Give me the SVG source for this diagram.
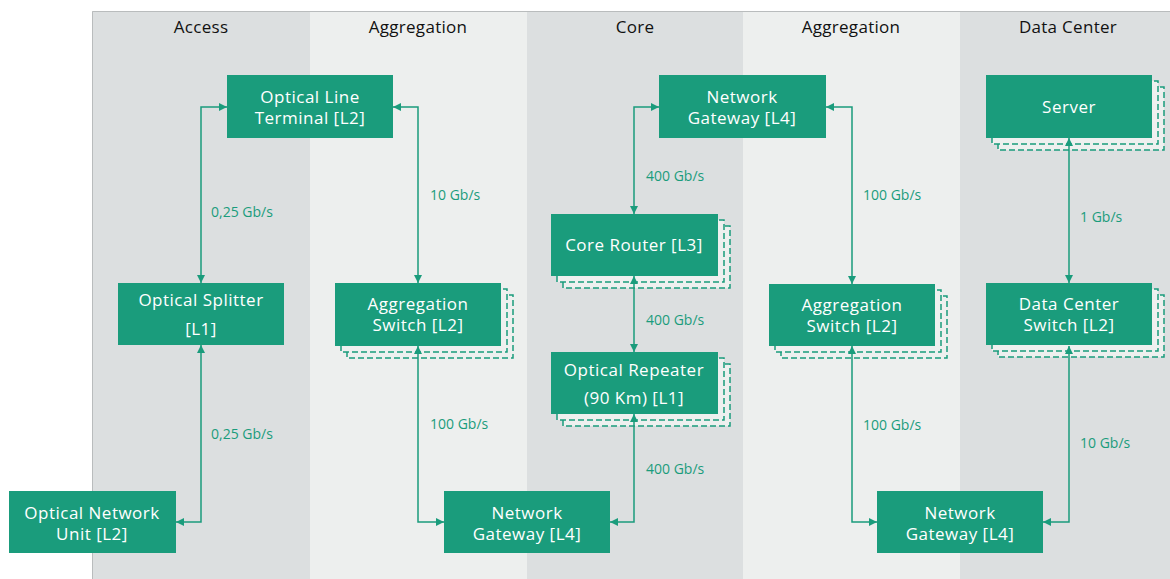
<svg xmlns="http://www.w3.org/2000/svg" width="1170" height="579" viewBox="0 0 1170 579">
  <style>
    .col-dark { fill: #dcdfe0; }
    .col-light { fill: #edefee; }
    .head { font-family: "Open Sans", "Noto Sans", sans-serif; font-size: 17px; letter-spacing: 0.3px; fill: #111; text-anchor: middle; }
    .node { fill: #1a9c7c; }
    .shadow { fill: #eef0ef; stroke: #1a9c7c; stroke-width: 1.5; stroke-dasharray: 6 3; }
    .label { font-family: "Open Sans", "Noto Sans", sans-serif; font-size: 17px; letter-spacing: 0.5px; fill: #ffffff; text-anchor: middle; }
    .rate { font-family: "Open Sans", "Noto Sans", sans-serif; font-size: 14px; fill: #1a9c7c; }
    .link { fill: none; stroke: #1a9c7c; stroke-width: 1.5; marker-start: url(#arrow); marker-end: url(#arrow); }
  </style>
  <defs>
    <marker id="arrow" viewBox="0 0 8 8" refX="8" refY="4" markerWidth="8" markerHeight="8" markerUnits="userSpaceOnUse" orient="auto-start-reverse">
      <path d="M0,0 L8,4 L0,8 z" fill="#1a9c7c"/>
    </marker>
  </defs>

  <!-- layer columns -->
  <g id="columns">
    <rect x="0" y="0" width="1170" height="579" fill="#ffffff"/>
    <rect class="col-dark" x="92" y="11" width="218" height="568"/>
    <rect class="col-light" x="310" y="11" width="217" height="568"/>
    <rect class="col-dark" x="527" y="11" width="216" height="568"/>
    <rect class="col-light" x="743" y="11" width="217" height="568"/>
    <rect class="col-dark" x="960" y="11" width="210" height="568"/>
    <path d="M92.5,579 V11.5 H1170" fill="none" stroke="#b9bcbd" stroke-width="1"/>
    <text class="head" x="201" y="33">Access</text>
    <text class="head" x="418" y="33">Aggregation</text>
    <text class="head" x="635" y="33">Core</text>
    <text class="head" x="851" y="33">Aggregation</text>
    <text class="head" x="1068" y="33">Data Center</text>
  </g>

  <!-- nodes -->
  <g id="olt">
    <rect class="node" x="227" y="75" width="166" height="63"/>
    <text class="label" x="310" y="103">Optical Line</text>
    <text class="label" x="310" y="124">Terminal [L2]</text>
  </g>
  <g id="splitter">
    <rect class="node" x="118" y="283" width="166" height="62"/>
    <text class="label" x="201" y="306">Optical Splitter</text>
    <text class="label" x="201" y="335">[L1]</text>
  </g>
  <g id="onu">
    <rect class="node" x="9" y="491" width="167" height="62"/>
    <text class="label" x="92" y="519">Optical Network</text>
    <text class="label" x="92" y="540">Unit [L2]</text>
  </g>
  <g id="agg-switch-west">
    <rect class="shadow" x="347" y="295" width="166" height="63"/>
    <rect class="shadow" x="341" y="289" width="166" height="63"/>
    <rect class="node" x="335" y="283" width="166" height="63"/>
    <text class="label" x="418" y="310">Aggregation</text>
    <text class="label" x="418" y="331">Switch [L2]</text>
  </g>
  <g id="gateway-core">
    <rect class="node" x="659" y="75" width="167" height="63"/>
    <text class="label" x="742" y="103">Network</text>
    <text class="label" x="742" y="124">Gateway [L4]</text>
  </g>
  <g id="core-router">
    <rect class="shadow" x="563" y="226" width="167" height="62"/>
    <rect class="shadow" x="557" y="220" width="167" height="62"/>
    <rect class="node" x="551" y="214" width="167" height="62"/>
    <text class="label" x="634" y="251">Core Router [L3]</text>
  </g>
  <g id="optical-repeater">
    <rect class="shadow" x="563" y="364" width="167" height="62"/>
    <rect class="shadow" x="557" y="358" width="167" height="62"/>
    <rect class="node" x="551" y="352" width="167" height="62"/>
    <text class="label" x="634" y="376">Optical Repeater</text>
    <text class="label" x="634" y="404">(90 Km) [L1]</text>
  </g>
  <g id="gateway-west">
    <rect class="node" x="444" y="491" width="166" height="62"/>
    <text class="label" x="527" y="519">Network</text>
    <text class="label" x="527" y="540">Gateway [L4]</text>
  </g>
  <g id="agg-switch-east">
    <rect class="shadow" x="781" y="296" width="166" height="62"/>
    <rect class="shadow" x="775" y="290" width="166" height="62"/>
    <rect class="node" x="769" y="284" width="166" height="62"/>
    <text class="label" x="852" y="311">Aggregation</text>
    <text class="label" x="852" y="332">Switch [L2]</text>
  </g>
  <g id="gateway-east">
    <rect class="node" x="877" y="491" width="166" height="62"/>
    <text class="label" x="960" y="519">Network</text>
    <text class="label" x="960" y="540">Gateway [L4]</text>
  </g>
  <g id="server">
    <rect class="shadow" x="998" y="87" width="166" height="63"/>
    <rect class="shadow" x="992" y="81" width="166" height="63"/>
    <rect class="node" x="986" y="75" width="166" height="63"/>
    <text class="label" x="1069" y="113">Server</text>
  </g>
  <g id="dc-switch">
    <rect class="shadow" x="998" y="295" width="166" height="62"/>
    <rect class="shadow" x="992" y="289" width="166" height="62"/>
    <rect class="node" x="986" y="283" width="166" height="62"/>
    <text class="label" x="1069" y="310">Data Center</text>
    <text class="label" x="1069" y="331">Switch [L2]</text>
  </g>

  <!-- connectors, drawn last so arrowheads sit over the stacked outlines -->
  <g id="connectors">
    <path class="link" d="M227,107 H201 V283"/>
    <path class="link" d="M201,345 V522 H176"/>
    <path class="link" d="M393,107 H418 V283"/>
    <path class="link" d="M418,346 V522 H444"/>
    <path class="link" d="M659,107 H634 V214"/>
    <path class="link" d="M634,276 V352"/>
    <path class="link" d="M634,414 V522 H610"/>
    <path class="link" d="M826,107 H852 V284"/>
    <path class="link" d="M852,346 V522 H877"/>
    <path class="link" d="M1069,138 V283"/>
    <path class="link" d="M1069,346 V522 H1043"/>
    <text class="rate" x="211" y="217">0,25 Gb/s</text>
    <text class="rate" x="211" y="439">0,25 Gb/s</text>
    <text class="rate" x="430" y="200">10 Gb/s</text>
    <text class="rate" x="430" y="429">100 Gb/s</text>
    <text class="rate" x="646" y="181">400 Gb/s</text>
    <text class="rate" x="646" y="325">400 Gb/s</text>
    <text class="rate" x="646" y="474">400 Gb/s</text>
    <text class="rate" x="863" y="200">100 Gb/s</text>
    <text class="rate" x="863" y="430">100 Gb/s</text>
    <text class="rate" x="1080" y="222">1 Gb/s</text>
    <text class="rate" x="1080" y="448">10 Gb/s</text>
  </g>
</svg>
